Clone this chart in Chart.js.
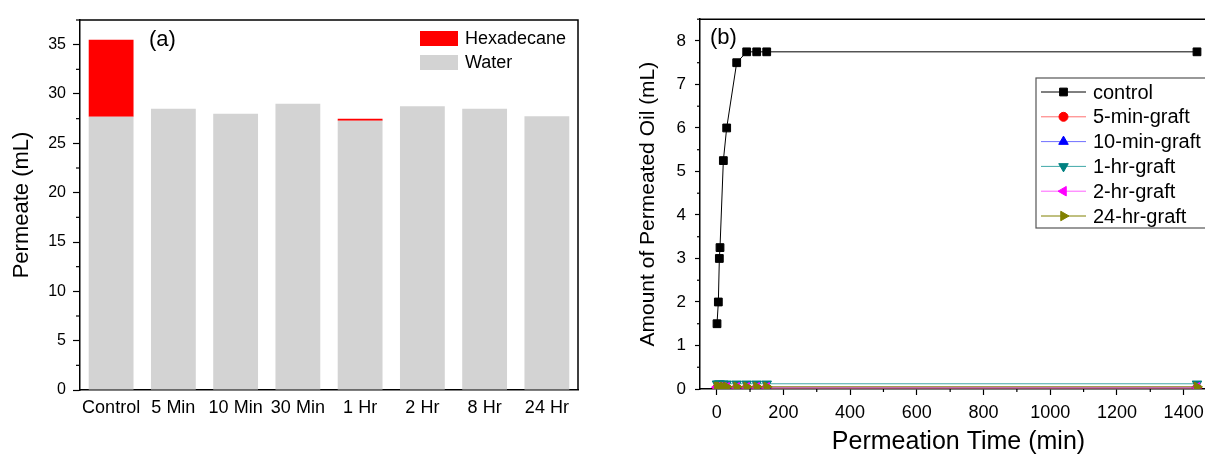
<!DOCTYPE html>
<html><head><meta charset="utf-8">
<script src="https://cdn.jsdelivr.net/npm/chart.js@4/dist/chart.umd.min.js"></script>
<style>
html,body{margin:0;padding:0;background:#fff;overflow:hidden;width:1205px;height:455px;position:relative;}
#wa{position:absolute;left:0;top:0;width:600px;height:455px;}
#wb{position:absolute;left:600px;top:0;width:640px;height:455px;}
</style></head><body>
<div id="wa"><canvas id="ca"></canvas></div>
<div id="wb"><canvas id="cb"></canvas></div>
<script>
// ---- Panel (a) data ----
const categories = ['Control','5 Min','10 Min','30 Min','1 Hr','2 Hr','8 Hr','24 Hr'];
const waterValues = [27.7, 28.5, 28.0, 29.0, 27.3, 28.75, 28.5, 27.75];
const hexadecaneValues = [7.8, 0, 0, 0, 0.2, 0, 0, 0];
const permeateTicks = [0, 5, 10, 15, 20, 25, 30, 35];

// ---- Panel (b) data ----
const timeMin = [1, 5, 8, 10, 20, 30, 60, 90, 120, 150, 1440];
const controlOil = [1.5, 2.0, 3.0, 3.25, 5.25, 6.0, 7.5, 7.75, 7.75, 7.75, 7.75];
const graft5min = [0.02, 0.02, 0.02, 0.02, 0.02, 0.02, 0.02, 0.02, 0.02, 0.02, 0.02];
const graft10min = [0.03, 0.03, 0.03, 0.03, 0.03, 0.03, 0.03, 0.03, 0.03, 0.03, 0.03];
const graft1hr = [0.12, 0.12, 0.12, 0.12, 0.12, 0.12, 0.12, 0.12, 0.12, 0.12, 0.12];
const graft2hr = [0.04, 0.04, 0.04, 0.04, 0.04, 0.04, 0.04, 0.04, 0.04, 0.04, 0.04];
const graft24hr = [0.05, 0.05, 0.05, 0.05, 0.05, 0.05, 0.05, 0.05, 0.05, 0.05, 0.05];
const timeTicks = [0, 200, 400, 600, 800, 1000, 1200, 1400];
const oilTicks = [0, 1, 2, 3, 4, 5, 6, 7, 8];

const FONT = "'Liberation Sans', Arial, sans-serif";
Chart.defaults.font.family = FONT;
Chart.defaults.color = '#000';

const toXY = (ys) => timeMin.map((t, i) => ({x: t, y: ys[i]}));

// frame, minor ticks, panel label, inside legend
const decor = {
  id: 'decor',
  afterDraw(chart, args, o) {
    const ctx = chart.ctx, ca = chart.chartArea;
    ctx.save();
    ctx.strokeStyle = '#000';
    ctx.lineWidth = 1.5;
    ctx.beginPath();
    ctx.moveTo(ca.left, ca.top); ctx.lineTo(ca.right, ca.top); ctx.lineTo(ca.right, ca.bottom);
    ctx.stroke();
    ctx.lineWidth = 1.2;
    (o.minor || []).forEach(m => {
      const sc = chart.scales[m.axis];
      const vals = sc.ticks.map(t => t.value);
      for (let i = 0; i < vals.length; i++) {
        const nxt = i + 1 < vals.length ? vals[i + 1] : vals[i] + (vals[1] - vals[0]);
        const v = (vals[i] + nxt) / 2;
        if (v > sc.max || v < sc.min) continue;
        const p = sc.getPixelForValue(v);
        ctx.beginPath();
        if (m.axis === 'y') { ctx.moveTo(ca.left - m.len, p); ctx.lineTo(ca.left, p); }
        else { ctx.moveTo(p, ca.bottom); ctx.lineTo(p, ca.bottom + m.len); }
        ctx.stroke();
      }
    });
    if (o.label) {
      ctx.fillStyle = '#000';
      ctx.font = o.label.size + 'px ' + FONT;
      ctx.textBaseline = 'middle';
      ctx.textAlign = 'left';
      ctx.fillText(o.label.text, o.label.x, o.label.y);
    }
    const L = o.legend;
    if (L) {
      if (L.frame) {
        ctx.strokeStyle = '#555'; ctx.lineWidth = 1.2;
        ctx.strokeRect(L.frame[0], L.frame[1], L.frame[2], L.frame[3]);
      }
      L.order.forEach((di, i) => {
        const ds = chart.data.datasets[di];
        const y = L.y + i * L.rowH;
        if (L.kind === 'box') {
          ctx.fillStyle = ds.backgroundColor;
          ctx.fillRect(L.x, y - L.boxH / 2, L.boxW, L.boxH);
        } else {
          ctx.strokeStyle = ds.borderColor; ctx.lineWidth = 1;
          ctx.beginPath(); ctx.moveTo(L.x, y); ctx.lineTo(L.x + L.lineW, y); ctx.stroke();
          ctx.fillStyle = ds.pointBackgroundColor;
          ctx.strokeStyle = ds.pointBorderColor;
          ctx.lineWidth = 1;
          Chart.helpers.drawPoint(ctx, {pointStyle: ds.pointStyle, rotation: ds.pointRotation || 0, radius: ds.pointRadius, borderWidth: 1}, L.x + L.lineW / 2, y);
        }
        ctx.fillStyle = '#000';
        ctx.font = L.size + 'px ' + FONT;
        ctx.textBaseline = 'middle'; ctx.textAlign = 'left';
        ctx.fillText(ds.label, L.textX, y + 1);
      });
    }
    ctx.restore();
  }
};

// ---------- Chart (a) ----------
new Chart(document.getElementById('ca'), {
  type: 'bar',
  data: {
    labels: categories,
    datasets: [
      {label: 'Water', data: waterValues, backgroundColor: '#d3d3d3', borderWidth: 0},
      {label: 'Hexadecane', data: hexadecaneValues, backgroundColor: '#ff0000', borderWidth: 0}
    ]
  },
  options: {
    responsive: true, maintainAspectRatio: false, animation: false,
    layout: {padding: {left: 0, right: 22, top: 20, bottom: 0}},
    plugins: {
      legend: {display: false}, tooltip: {enabled: false},
      decor: {
        minor: [{axis: 'y', len: 4}],
        label: {text: '(a)', x: 149, y: 40, size: 22},
        legend: {kind: 'box', order: [1, 0], x: 420, y: 38.5, rowH: 24, boxW: 38, boxH: 15, textX: 465, size: 18}
      }
    },
    scales: {
      x: {
        stacked: true,
        barPercentage: 0.8, categoryPercentage: 1.0,
        grid: {drawOnChartArea: false, drawTicks: false},
        border: {display: true, color: '#000', width: 1.5},
        ticks: {font: {size: 18}, padding: 7, color: '#000', maxRotation: 0, autoSkip: false},
        afterFit: s => { s.height = 65; }
      },
      y: {
        stacked: true, min: 0, max: 37.5,
        afterBuildTicks: s => { s.ticks = permeateTicks.map(v => ({value: v})); },
        grid: {drawOnChartArea: false, drawTicks: true, tickLength: 7, tickColor: '#000', tickWidth: 1.2},
        border: {display: true, color: '#000', width: 1.5},
        ticks: {font: {size: 16}, padding: 7, color: '#000'},
        title: {display: true, text: 'Permeate (mL)', font: {size: 22, lineHeight: 1}, padding: {top: 11, bottom: 0}, color: '#000'},
        afterFit: s => { s.width = 80; }
      }
    }
  },
  plugins: [decor]
});

// ---------- Chart (b) ----------
function series(label, ys, color, lineColor, style, radius, rot, order) {
  return {
    label: label, data: toXY(ys), order: order,
    borderColor: lineColor, backgroundColor: color, borderWidth: 1,
    pointStyle: style, pointRadius: radius, pointRotation: rot,
    pointBackgroundColor: color, pointBorderColor: color, pointBorderWidth: 1,
    showLine: true, tension: 0
  };
}
new Chart(document.getElementById('cb'), {
  type: 'scatter',
  data: {
    datasets: [
      series('control', controlOil, '#000000', '#000000', 'rect', 5.5, 0, 0),
      series('5-min-graft', graft5min, '#ff0000', '#ff7070', 'circle', 4.5, 0, 5),
      series('10-min-graft', graft10min, '#0000ff', '#7070ff', 'triangle', 5.5, 0, 4),
      series('1-hr-graft', graft1hr, '#008080', '#40a8a8', 'triangle', 5.5, 180, 3),
      series('2-hr-graft', graft2hr, '#ff00ff', '#ff60ff', 'triangle', 5.5, 270, 2),
      series('24-hr-graft', graft24hr, '#808000', '#808000', 'triangle', 5.5, 90, 1)
    ]
  },
  options: {
    responsive: true, maintainAspectRatio: false, animation: false,
    layout: {padding: {left: 0, right: 23, top: 13, bottom: 0}},
    plugins: {
      legend: {display: false}, tooltip: {enabled: false},
      decor: {
        minor: [{axis: 'y', len: 3}, {axis: 'x', len: 3}],
        label: {text: '(b)', x: 110, y: 38, size: 22},
        legend: {kind: 'line', order: [0, 1, 2, 3, 4, 5], frame: [436, 78, 240, 150], x: 441, y: 92, rowH: 24.8, lineW: 45, textX: 493, size: 20}
      }
    },
    scales: {
      x: {
        type: 'linear', min: -50, max: 1500,
        afterBuildTicks: s => { s.ticks = timeTicks.map(v => ({value: v})); },
        grid: {drawOnChartArea: false, drawTicks: true, tickLength: 6, tickColor: '#000', tickWidth: 1.2},
        border: {display: true, color: '#000', width: 1.5},
        ticks: {font: {size: 18}, padding: 7, color: '#000', maxRotation: 0, callback: v => String(v)},
        title: {display: true, text: 'Permeation Time (min)', font: {size: 25, lineHeight: 1}, padding: {top: 0, bottom: 0}, color: '#000'},
        afterFit: s => { s.height = 66; }
      },
      y: {
        min: 0, max: 8.5,
        afterBuildTicks: s => { s.ticks = oilTicks.map(v => ({value: v})); },
        grid: {drawOnChartArea: false, drawTicks: true, tickLength: 5, tickColor: '#000', tickWidth: 1.2},
        border: {display: true, color: '#000', width: 1.5},
        ticks: {font: {size: 17}, padding: 9, color: '#000', callback: v => String(v)},
        title: {display: true, text: 'Amount of Permeated Oil (mL)', font: {size: 21, lineHeight: 1}, padding: {top: 38, bottom: 0}, color: '#000'},
        afterFit: s => { s.width = 100; }
      }
    }
  },
  plugins: [decor]
});
</script>
</body></html>
